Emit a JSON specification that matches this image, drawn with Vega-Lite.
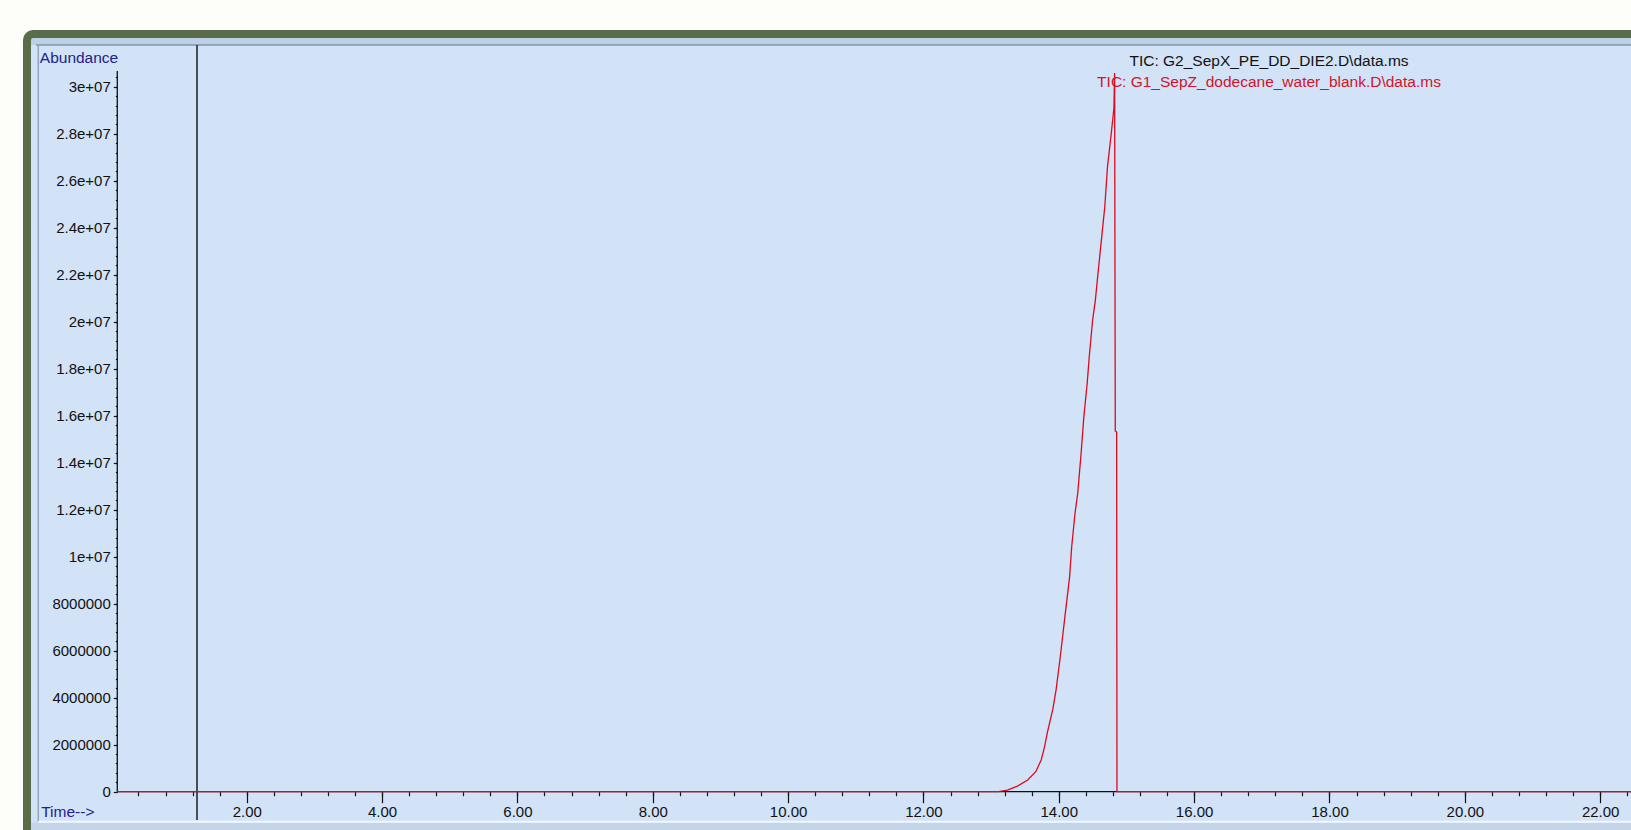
{
  "$schema": "https://vega.github.io/schema/vega-lite/v6.json",
  "autosize": {"type": "none"},
  "width": 1604,
  "height": 796,
  "padding": {"left": 27, "top": 34, "right": 0, "bottom": 0},
  "background": "#fdfdfa",
  "config": {
    "view": {"fill": "#d2e2f7", "stroke": null},
    "font": "Liberation Sans",
    "axis": {
      "labelFont": "Liberation Sans",
      "labelFontSize": 15,
      "labelColor": "#111111",
      "tickColor": "#111111",
      "tickWidth": 1.2,
      "domain": false,
      "grid": false,
      "labelFlush": false,
      "labelOverlap": false,
      "titleFont": "Liberation Sans",
      "titleFontSize": 15.5,
      "titleFontWeight": "normal",
      "titleColor": "#22228a"
    }
  },
  "title": {
    "text": "TIC: G2_SepX_PE_DD_DIE2.D\\data.ms",
    "subtitle": "TIC: G1_SepZ_dodecane_water_blank.D\\data.ms",
    "orient": "top",
    "anchor": "middle",
    "frame": "group",
    "offset": 0,
    "dx": 440,
    "dy": 60.5,
    "font": "Liberation Sans",
    "fontSize": 15.5,
    "fontWeight": "normal",
    "color": "#111111",
    "subtitleFont": "Liberation Sans",
    "subtitleFontSize": 15.5,
    "subtitleColor": "#d0142c",
    "subtitlePadding": 6
  },
  "datasets": {
    "tic": [
      {"time": 0.087, "abundance": 0},
      {"time": 13.11, "abundance": 0},
      {"time": 13.24, "abundance": 70000},
      {"time": 13.39, "abundance": 240000},
      {"time": 13.54, "abundance": 500000},
      {"time": 13.66, "abundance": 850000},
      {"time": 13.74, "abundance": 1350000},
      {"time": 13.79, "abundance": 1910000},
      {"time": 13.83, "abundance": 2500000},
      {"time": 13.91, "abundance": 3480000},
      {"time": 13.96, "abundance": 4330000},
      {"time": 14.02, "abundance": 5690000},
      {"time": 14.09, "abundance": 7430000},
      {"time": 14.16, "abundance": 9140000},
      {"time": 14.19, "abundance": 10400000},
      {"time": 14.24, "abundance": 11850000},
      {"time": 14.28, "abundance": 12700000},
      {"time": 14.33, "abundance": 14400000},
      {"time": 14.37, "abundance": 15940000},
      {"time": 14.42, "abundance": 17390000},
      {"time": 14.45, "abundance": 18500000},
      {"time": 14.50, "abundance": 20070000},
      {"time": 14.54, "abundance": 20900000},
      {"time": 14.58, "abundance": 22070000},
      {"time": 14.63, "abundance": 23480000},
      {"time": 14.68, "abundance": 24890000},
      {"time": 14.72, "abundance": 26600000},
      {"time": 14.77, "abundance": 27870000},
      {"time": 14.815, "abundance": 29080000},
      {"time": 14.825, "abundance": 30580000},
      {"time": 14.835, "abundance": 15350000},
      {"time": 14.855, "abundance": 15300000},
      {"time": 14.86, "abundance": 0},
      {"time": 22.456, "abundance": 0}
    ],
    "one": [{}]
  },
  "layer": [
    {
      "data": {"name": "one"},
      "mark": {"type": "rect", "fill": "#bcd0e8", "clip": false},
      "encoding": {
        "x": {"datum": -1.2472, "type": "quantitative", "scale": {"domain": [-1.2472, 22.456], "nice": false, "zero": false}, "axis": null},
        "x2": {"datum": 22.456},
        "y": {"datum": 32072300, "type": "quantitative", "scale": {"domain": [-1629800, 32242600], "nice": false, "zero": false}, "axis": null},
        "y2": {"datum": 31774500}
      }
    },
    {
      "data": {"name": "one"},
      "mark": {"type": "rect", "fill": "#c4d5ea", "clip": false},
      "encoding": {
        "x": {"datum": -1.2472, "type": "quantitative", "scale": {"domain": [-1.2472, 22.456], "nice": false, "zero": false}, "axis": null},
        "x2": {"datum": 22.456},
        "y": {"datum": -1310000, "type": "quantitative", "scale": {"domain": [-1629800, 32242600], "nice": false, "zero": false}, "axis": null},
        "y2": {"datum": -1629800}
      }
    },
    {
      "data": {"name": "one"},
      "mark": {"type": "rule", "color": "#8494a8", "strokeWidth": 1.5},
      "encoding": {
        "x": {"datum": -1.114, "type": "quantitative", "scale": {"domain": [-1.2472, 22.456], "nice": false, "zero": false}, "axis": null},
        "x2": {"datum": 22.456},
        "y": {"datum": 31774500, "type": "quantitative", "scale": {"domain": [-1629800, 32242600], "nice": false, "zero": false}, "axis": null}
      }
    },
    {
      "data": {"name": "one"},
      "mark": {"type": "rule", "color": "#96a6ba", "strokeWidth": 1.5},
      "encoding": {
        "x": {"datum": -1.0803, "type": "quantitative", "scale": {"domain": [-1.2472, 22.456], "nice": false, "zero": false}, "axis": null},
        "y": {"datum": 31774500, "type": "quantitative", "scale": {"domain": [-1629800, 32242600], "nice": false, "zero": false}, "axis": null},
        "y2": {"datum": -1276600}
      }
    },
    {
      "data": {"name": "one"},
      "mark": {"type": "rule", "color": "#f2f7fc", "strokeWidth": 2},
      "encoding": {
        "x": {"datum": -1.0803, "type": "quantitative", "scale": {"domain": [-1.2472, 22.456], "nice": false, "zero": false}, "axis": null},
        "x2": {"datum": 22.456},
        "y": {"datum": -1276600, "type": "quantitative", "scale": {"domain": [-1629800, 32242600], "nice": false, "zero": false}, "axis": null}
      }
    },
    {
      "data": {"name": "one"},
      "mark": {"type": "rect", "fill": null, "stroke": "#5a6d4a", "strokeWidth": 8, "cornerRadius": 6, "clip": false},
      "encoding": {
        "x": {"datum": -1.2472, "type": "quantitative", "scale": {"domain": [-1.2472, 22.456], "nice": false, "zero": false}, "axis": null},
        "x2": {"datum": 23.5},
        "y": {"datum": 32242600, "type": "quantitative", "scale": {"domain": [-1629800, 32242600], "nice": false, "zero": false}, "axis": null},
        "y2": {"datum": -3000000}
      }
    },
    {
      "data": {"name": "one"},
      "mark": {"type": "rule", "color": "#111111", "strokeWidth": 1.3},
      "encoding": {
        "x": {
          "datum": 0.087, "type": "quantitative",
          "scale": {"domain": [-1.2472, 22.456], "nice": false, "zero": false},
          "axis": {
            "orient": "bottom", "offset": -38.3, "labels": false, "tickSize": 4, "title": null,
            "values": [0.4,0.8,1.2,1.6,2,2.4,2.8,3.2,3.6,4,4.4,4.8,5.2,5.6,6,6.4,6.8,7.2,7.6,8,8.4,8.8,9.2,9.6,10,10.4,10.8,11.2,11.6,12,12.4,12.8,13.2,13.6,14,14.4,14.8,15.2,15.6,16,16.4,16.8,17.2,17.6,18,18.4,18.8,19.2,19.6,20,20.4,20.8,21.2,21.6,22,22.4]
          }
        },
        "x2": {"datum": 22.456},
        "y": {
          "datum": 0, "type": "quantitative",
          "scale": {"domain": [-1629800, 32242600], "nice": false, "zero": false},
          "axis": null
        }
      }
    },
    {
      "data": {"name": "one"},
      "mark": {"type": "rule", "color": "#111111", "strokeWidth": 1.3},
      "encoding": {
        "x": {
          "datum": 0.087, "type": "quantitative",
          "scale": {"domain": [-1.2472, 22.456], "nice": false, "zero": false},
          "axis": null
        },
        "y": {
          "datum": 0, "type": "quantitative",
          "scale": {"domain": [-1629800, 32242600], "nice": false, "zero": false},
          "axis": {
            "orient": "left", "offset": -90.3, "labels": false, "tickSize": 2, "title": null,
            "values": [400000,800000,1200000,1600000,2000000,2400000,2800000,3200000,3600000,4000000,4400000,4800000,5200000,5600000,6000000,6400000,6800000,7200000,7600000,8000000,8400000,8800000,9200000,9600000,10000000,10400000,10800000,11200000,11600000,12000000,12400000,12800000,13200000,13600000,14000000,14400000,14800000,15200000,15600000,16000000,16400000,16800000,17200000,17600000,18000000,18400000,18800000,19200000,19600000,20000000,20400000,20800000,21200000,21600000,22000000,22400000,22800000,23200000,23600000,24000000,24400000,24800000,25200000,25600000,26000000,26400000,26800000,27200000,27600000,28000000,28400000,28800000,29200000,29600000,30000000,30400000]
          }
        },
        "y2": {"datum": 30668000}
      }
    },
    {
      "data": {"name": "one"},
      "mark": {"type": "rule", "color": "#111111", "strokeWidth": 1.4},
      "encoding": {
        "x": {
          "datum": 1.265, "type": "quantitative",
          "scale": {"domain": [-1.2472, 22.456], "nice": false, "zero": false},
          "axis": null
        },
        "y": {
          "datum": 31774500, "type": "quantitative",
          "scale": {"domain": [-1629800, 32242600], "nice": false, "zero": false},
          "axis": null
        },
        "y2": {"datum": -1204000}
      }
    },
    {
      "data": {"name": "tic"},
      "mark": {"type": "line", "color": "#dd0a1e", "strokeWidth": 1.3},
      "encoding": {
        "x": {
          "field": "time", "type": "quantitative",
          "scale": {"domain": [-1.2472, 22.456], "nice": false, "zero": false},
          "axis": {
            "orient": "bottom", "offset": -38.3,
            "values": [2,4,6,8,10,12,14,16,18,20,22],
            "format": ".2f", "tickSize": 11, "labelPadding": 2,
            "title": "Time-->", "titleX": 13.7, "titleY": 19.3,
            "titleAlign": "left", "titleBaseline": "middle", "titleAngle": 0
          }
        },
        "y": {
          "field": "abundance", "type": "quantitative",
          "scale": {"domain": [-1629800, 32242600], "nice": false, "zero": false},
          "axis": {
            "orient": "left", "offset": -90.3,
            "values": [0,2000000,4000000,6000000,8000000,10000000,12000000,14000000,16000000,18000000,20000000,22000000,24000000,26000000,28000000,30000000],
            "labelExpr": "datum.value < 10000000 ? format(datum.value, 'd') : replace(format(datum.value, '~e'), 'e+', 'e+0')",
            "tickSize": 4, "labelPadding": 3,
            "title": "Abundance", "titleX": -78, "titleY": 23.3,
            "titleAlign": "left", "titleBaseline": "middle", "titleAngle": 0
          }
        }
      }
    }
  ],
  "resolve": {"axis": {"x": "independent", "y": "independent"}}
}
